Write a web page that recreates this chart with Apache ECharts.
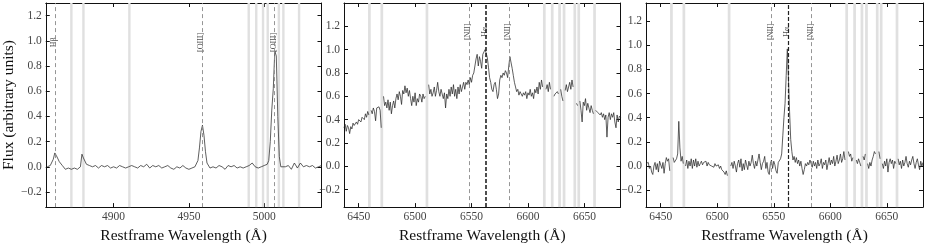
<!DOCTYPE html>
<html><head><meta charset="utf-8">
<script src="https://cdn.jsdelivr.net/npm/echarts@6/dist/echarts.min.js"></script>
<style>html,body{margin:0;padding:0;background:#fff}#c{width:927px;height:249px}</style>
</head><body><div id="c"></div>
<script>
// ---------- DATA ----------
// Panel 1: H-beta / [OIII] region
const hbWave = [4856,4858,4860,4861,4862,4864,4866,4868,4870,4872,4874,4876,4878,4879,4880,4882,4884,4886,4888,4890,4892,4894,4896,4898,4900,4902,4904,4906,4908,4910,4912,4914,4916,4918,4920,4922,4924,4926,4928,4930,4932,4934,4936,4938,4940,4942,4944,4946,4948,4950,4952,4954,4956,4957,4958,4959,4960,4961,4962,4964,4966,4968,4970,4972,4974,4976,4978,4980,4982,4984,4986,4988,4990,4992,4994,4996,4998,5000,5002,5003,5004,5005,5006,5007,5008,5009,5010,5011,5012,5014,5016,5018,5020,5022,5024,5026,5028,5030,5032,5034,5036,5038];
const hbFlux = [0.0,0.01,0.06,0.11,0.09,0.04,0.01,-0.02,-0.01,-0.02,-0.01,-0.02,0.0,0.10,0.07,0.02,0.01,0.0,0.01,-0.01,0.01,0.0,0.01,-0.01,0.0,-0.01,0.01,0.0,-0.01,0.0,0.01,0.0,-0.01,0.01,0.0,0.02,-0.01,0.01,0.0,0.01,-0.01,0.0,0.01,-0.01,-0.02,0.0,-0.01,0.01,-0.01,-0.02,-0.01,0.0,0.05,0.15,0.28,0.33,0.25,0.12,0.03,-0.01,0.0,-0.01,0.01,0.0,-0.02,0.01,0.0,0.01,-0.01,0.0,-0.01,0.0,0.01,0.03,0.0,-0.01,0.0,0.01,0.02,0.05,0.2,0.45,0.62,0.92,0.88,0.4,0.08,0.0,-0.01,0.0,0.01,-0.02,0.03,-0.01,0.03,0.0,0.01,0.0,0.01,-0.01,0.0,0.01];

// Panel 2: broad H-alpha object
const haWaveA = [6437,6438,6439,6440,6441,6442,6443,6444,6445,6446,6448,6449,6450,6452,6453,6455,6456,6457,6458,6459,6461,6462,6463,6464,6465,6466,6467,6468,6469,6470,6472,6473,6474,6475,6476,6477,6478,6479,6480,6481,6482,6483,6484,6485,6486,6487,6488,6489,6490,6491,6492,6493,6494,6495,6496,6497,6498,6499,6500,6501,6502,6503,6504,6505,6506,6507,6508,6509,6512,6513,6514,6515,6516,6517,6518,6519,6520,6521,6522,6523,6524,6525,6526,6527,6528,6529,6530,6531,6532,6533,6534,6535,6536,6537,6538,6539,6540,6541,6542,6543,6544,6545,6546,6547,6548,6549,6550,6551,6552,6553,6554,6555,6556,6557,6558,6559,6560,6561,6562,6563,6564,6565,6566,6567,6568,6569,6570,6571,6572,6573,6574,6575,6576,6577,6578,6579,6580,6581,6582,6583,6584,6585,6586,6587,6588,6589,6590,6591,6592,6593,6594,6595,6596,6597,6598,6599,6600,6601,6602,6603,6604,6605,6606,6607,6608,6609,6610,6611,6612,6613,6616,6617,6618,6619,6620,6623,6624,6625,6626,6627,6629,6630,6631,6633,6634,6635,6636,6637,6638,6639,6640,6643,6644,6646,6647,6648,6649,6650,6651,6652,6653,6654,6655,6656,6657,6658,6660,6661,6662,6663,6664,6665,6666,6667,6668,6669,6670,6671,6672,6673,6674,6675,6676,6677,6678,6679,6680,6681,6682];
const haFluxA = [0.33,0.36,0.30,0.35,0.33,0.28,0.34,0.32,0.37,0.35,0.38,0.36,0.40,0.38,0.42,0.40,0.45,0.42,0.47,0.44,0.48,0.45,0.50,0.47,0.39,0.50,0.49,0.51,0.48,0.33,0.60,0.52,0.55,0.50,0.57,0.48,0.55,0.45,0.52,0.56,0.50,0.58,0.62,0.57,0.64,0.60,0.53,0.65,0.62,0.69,0.63,0.67,0.60,0.65,0.58,0.52,0.60,0.55,0.63,0.52,0.58,0.55,0.62,0.60,0.55,0.62,0.58,0.60,0.70,0.62,0.66,0.60,0.63,0.68,0.60,0.65,0.72,0.64,0.60,0.66,0.62,0.58,0.63,0.50,0.62,0.58,0.66,0.60,0.68,0.62,0.70,0.60,0.66,0.58,0.68,0.62,0.70,0.64,0.68,0.72,0.66,0.72,0.70,0.74,0.70,0.76,0.72,0.78,0.80,0.86,0.92,0.96,0.86,0.94,0.90,0.84,0.96,0.98,1.00,0.97,0.93,0.85,0.76,0.72,0.66,0.64,0.70,0.72,0.66,0.58,0.62,0.74,0.78,0.76,0.80,0.78,0.82,0.80,0.76,0.86,0.94,0.93,0.84,0.78,0.72,0.68,0.64,0.66,0.61,0.64,0.62,0.60,0.63,0.61,0.64,0.58,0.63,0.61,0.66,0.60,0.63,0.58,0.66,0.63,0.68,0.62,0.72,0.66,0.74,0.68,0.66,0.70,0.64,0.72,0.66,0.60,0.62,0.61,0.64,0.62,0.66,0.60,0.56,0.65,0.70,0.64,0.68,0.72,0.66,0.74,0.68,0.54,0.52,0.56,0.48,0.38,0.55,0.52,0.58,0.48,0.54,0.50,0.46,0.52,0.48,0.45,0.48,0.47,0.46,0.45,0.44,0.46,0.42,0.45,0.40,0.44,0.25,0.42,0.46,0.40,0.45,0.42,0.46,0.38,0.33,0.44,0.38,0.43,0.42];

// Panel 3: narrow H-alpha object
const haWaveB = [6437,6438,6439,6440,6441,6442,6443,6444,6445,6446,6447,6448,6449,6450,6451,6452,6453,6454,6455,6456,6457,6458,6461,6462,6463,6464,6465,6466,6467,6468,6469,6470,6472,6473,6474,6475,6476,6477,6478,6479,6480,6481,6482,6483,6484,6485,6486,6487,6488,6489,6490,6491,6492,6493,6494,6495,6496,6497,6498,6499,6500,6501,6502,6503,6504,6505,6506,6507,6508,6509,6512,6513,6514,6515,6516,6517,6518,6519,6520,6521,6522,6523,6524,6525,6526,6527,6528,6529,6530,6531,6532,6533,6534,6535,6536,6537,6538,6539,6540,6541,6542,6543,6544,6545,6546,6547,6548,6549,6550,6551,6552,6553,6554,6555,6556,6557,6558,6559,6560,6561,6562,6563,6564,6565,6566,6567,6568,6569,6570,6571,6572,6573,6574,6575,6576,6577,6578,6579,6580,6581,6582,6583,6584,6585,6586,6587,6588,6589,6590,6591,6592,6593,6594,6595,6596,6597,6598,6599,6600,6601,6602,6603,6604,6605,6606,6607,6608,6609,6610,6611,6612,6613,6616,6617,6618,6619,6620,6623,6624,6625,6626,6627,6629,6630,6631,6633,6634,6635,6636,6637,6638,6639,6640,6643,6644,6646,6647,6648,6649,6650,6651,6652,6653,6654,6655,6656,6657,6658,6660,6661,6662,6663,6664,6665,6666,6667,6668,6669,6670,6671,6672,6673,6674,6675,6676,6677,6678,6679,6680,6681,6682];
const haFluxB = [0.02,0.01,0.03,-0.02,0.00,-0.05,-0.07,0.00,0.03,-0.03,0.02,-0.05,0.04,0.05,-0.02,0.03,-0.06,0.02,0.07,0.04,0.06,-0.04,0.07,0.03,0.02,0.06,0.10,0.37,0.15,0.04,0.08,0.02,0.00,0.05,-0.02,0.04,0.00,0.06,-0.02,0.05,0.00,0.06,-0.01,0.04,0.00,0.02,0.04,0.01,0.03,0.02,0.04,0.00,0.03,0.01,0.02,0.00,0.01,-0.01,0.02,0.00,-0.01,0.01,-0.02,0.00,-0.03,-0.02,-0.05,-0.07,-0.04,-0.08,0.00,0.03,-0.02,0.04,0.00,-0.05,0.02,0.05,-0.01,0.06,-0.04,0.02,-0.03,0.05,0.01,-0.03,0.04,0.00,0.03,0.09,0.02,-0.02,0.04,0.00,0.05,0.10,0.03,-0.03,0.02,0.04,0.08,-0.02,0.03,-0.05,-0.07,0.02,0.05,-0.02,0.04,0.01,-0.04,-0.06,0.03,0.02,0.06,0.10,0.25,0.40,0.52,0.75,0.97,0.72,0.45,0.22,0.12,0.05,0.08,0.03,0.07,0.02,0.05,0.00,0.04,-0.02,-0.07,-0.03,0.02,0.00,0.03,0.01,0.05,0.02,-0.01,0.04,0.00,0.03,-0.02,0.05,0.00,0.02,0.06,-0.02,0.03,0.01,0.05,-0.03,0.02,0.07,0.01,0.05,0.02,0.08,0.00,0.04,0.09,0.02,0.05,0.10,0.03,0.06,0.12,0.05,0.12,0.08,0.10,0.04,0.07,0.05,0.02,0.06,0.03,0.00,0.08,0.05,0.10,0.02,-0.02,0.03,0.00,0.05,0.08,0.12,0.10,0.12,0.06,0.02,-0.02,0.04,0.00,0.06,-0.05,0.03,0.06,0.02,0.05,-0.02,0.04,0.02,0.06,0.01,0.04,-0.02,0.05,0.00,0.03,0.08,0.02,-0.01,0.04,0.01,0.05,0.08,0.02,-0.02,0.03,0.06,0.01,-0.03,0.04,0.00,0.03];

// Masked sky-line bands (restframe wavelength)
const skyHb = [4872,4880,4910.5,4989.7,4994.7,4999.2,5002.3,5009.7,5012.7,5023.1];
const skyHa = [6459.5,6470.5,6510.5,6614.5,6621.5,6628,6632,6641.5,6645,6659];

// Emission lines
const linesHb = [4861.33, 4958.91, 5006.84];
const namesHb = ['Hβ', '[OIII]', '[OIII]'];
const linesHa = [6548.05, 6562.8, 6583.45];
const namesHa = ['[NII]', 'Hα', '[NII]'];
const labelYs = [0.975, 1.14, 1.10];

// Axis ranges and ticks
const xRangeHb = [4855, 5038];
const xRangeHa = [6437, 6682];
const yRanges = [[-0.32, 1.30], [-0.35, 1.40], [-0.34, 1.35]];
const xTicksHb = [4900, 4950, 5000];
const xTicksHa = [6450, 6500, 6550, 6600, 6650];
const yTicks = [-0.2, 0.0, 0.2, 0.4, 0.6, 0.8, 1.0, 1.2];

// ---------- CHART ----------
const FONT = 'Liberation Serif';
const chart = echarts.init(document.getElementById('c'), null, {renderer: 'canvas'});

const grids = [
  {left: 44, top: 3, width: 277.5, height: 214},
  {left: 344, top: 3, width: 276.5, height: 214},
  {left: 646, top: 3, width: 277, height: 214}
];

const fmtY = v => (v < 0 ? '\u2212' : '') + Math.abs(v).toFixed(1);

const xAxes = [], yAxes = [], series = [];
const panels = [
  {xr: xRangeHb, xt: xTicksHb, wave: hbWave, flux: hbFlux, sky: skyHb, skyHalf: 0.8, lines: linesHb, names: namesHb, mask: false},
  {xr: xRangeHa, xt: xTicksHa, wave: haWaveA, flux: haFluxA, sky: skyHa, skyHalf: 1.2, lines: linesHa, names: namesHa, mask: true},
  {xr: xRangeHa, xt: xTicksHa, wave: haWaveB, flux: haFluxB, sky: skyHa, skyHalf: 1.2, lines: linesHa, names: namesHa, mask: true}
];

panels.forEach((p, i) => {
  const axLine = {show: true, onZero: false, lineStyle: {color: '#111', width: 1}};
  xAxes.push({
    type: 'value', gridIndex: i, min: p.xr[0], max: p.xr[1], position: 'bottom',
    axisLine: axLine, splitLine: {show: false},
    axisTick: {show: true, inside: true, length: 4, lineStyle: {color: '#111'}, customValues: p.xt},
    axisLabel: {show: true, customValues: p.xt, margin: 4, color: '#444', fontFamily: FONT, fontSize: 11.5, formatter: v => String(v)},
    name: 'Restframe Wavelength (Å)', nameLocation: 'middle', nameGap: 15,
    nameTextStyle: {fontFamily: FONT, fontSize: 15.5, color: '#111', verticalAlign: 'top'}
  });
  xAxes.push({
    type: 'value', gridIndex: i, min: p.xr[0], max: p.xr[1], position: 'top',
    axisLine: axLine, splitLine: {show: false},
    axisTick: {show: true, inside: true, length: 4, lineStyle: {color: '#111'}, customValues: p.xt},
    axisLabel: {show: false}
  });
  const yl = {
    type: 'value', gridIndex: i, min: yRanges[i][0], max: yRanges[i][1], position: 'left',
    axisLine: axLine, splitLine: {show: false},
    axisTick: {show: true, inside: true, length: 4, lineStyle: {color: '#111'}, customValues: yTicks},
    axisLabel: {show: true, customValues: yTicks, margin: 4, color: '#444', fontFamily: FONT, fontSize: 11.5, formatter: fmtY}
  };
  if (i === 0) {
    yl.name = 'Flux (arbitrary units)';
    yl.nameLocation = 'middle';
    yl.nameGap = 26;
    yl.nameRotate = 90;
    yl.nameTextStyle = {fontFamily: FONT, fontSize: 15.5, color: '#111'};
  }
  yAxes.push(yl);
  yAxes.push({
    type: 'value', gridIndex: i, min: yRanges[i][0], max: yRanges[i][1], position: 'right',
    axisLine: axLine, splitLine: {show: false},
    axisTick: {show: true, inside: true, length: 4, lineStyle: {color: '#111'}, customValues: yTicks},
    axisLabel: {show: false}
  });

  const xi = 2 * i, yi = 2 * i;

  // sky bands
  series.push({
    type: 'line', xAxisIndex: xi, yAxisIndex: yi, data: [], silent: true, z: 1,
    markArea: {
      silent: true, itemStyle: {color: '#e0e0e0'},
      data: p.sky.map(s => [{xAxis: s - p.skyHalf}, {xAxis: s + p.skyHalf}])
    }
  });

  // spectrum (with breaks at masked sky bands)
  const data = [];
  for (let k = 0; k < p.wave.length; k++) {
    data.push([p.wave[k], p.flux[k]]);
    if (p.mask && k < p.wave.length - 1) {
      const gap = p.sky.find(s => s > p.wave[k] && s < p.wave[k + 1]);
      if (gap !== undefined) data.push([gap, '-']);
    }
  }
  series.push({
    type: 'line', xAxisIndex: xi, yAxisIndex: yi, data: data, symbol: 'none', showSymbol: false,
    connectNulls: false, silent: true, z: 3,
    lineStyle: {color: '#2a2a2a', width: 0.75}
  });

  // emission line markers
  series.push({
    type: 'line', xAxisIndex: xi, yAxisIndex: yi, data: [], silent: true, z: 2,
    markLine: {
      silent: true, symbol: ['none', 'none'], label: {show: false},
      data: p.lines.map((l, j) => {
        const strong = (i > 0 && j === 1);
        return {xAxis: l, lineStyle: {type: strong ? [4, 2] : [4, 3], color: strong ? '#222' : '#8a8a8a', width: strong ? (i === 1 ? 1.6 : 1.2) : 0.9}};
      })
    }
  });

  // line labels
  series.push({
    type: 'scatter', xAxisIndex: xi, yAxisIndex: yi, symbolSize: 0, silent: true, z: 4,
    data: p.lines.map((l, j) => [l, labelYs[i], p.names[j]]),
    label: {
      show: true, position: 'inside', rotate: 90, offset: [1.5, -1],
      fontFamily: FONT, fontSize: 8, color: '#222',
      formatter: d => d.data[2]
    }
  });
});

chart.setOption({
  animation: false,
  backgroundColor: '#fff',
  grid: grids,
  xAxis: xAxes,
  yAxis: yAxes,
  series: series
});
</script>
</body></html>
